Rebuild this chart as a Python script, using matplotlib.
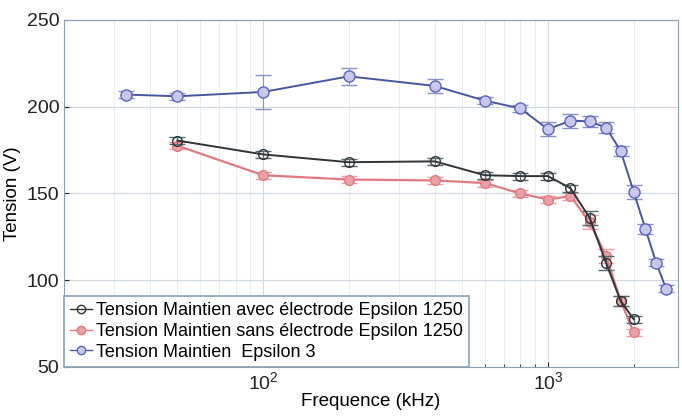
import math
import matplotlib
matplotlib.use("Agg")
import matplotlib.pyplot as plt
from matplotlib.lines import Line2D
from matplotlib.ticker import FuncFormatter, LogLocator, NullFormatter

plt.rcParams["font.family"] = ["Liberation Sans", "DejaVu Sans"]
plt.rcParams["mathtext.default"] = "regular"

# Tension Maintien avec électrode Epsilon 1250
freq_avec = [50, 100, 200, 400, 600, 800, 1000, 1200, 1400, 1600, 1800, 2000]
v_avec = [180.5, 172.5, 168, 168.5, 160.5, 160, 160, 153, 136, 110, 88, 77.5]
err_avec = [2, 2, 2, 2, 2, 2, 2, 2, 4, 4, 3, 2]

# Tension Maintien sans électrode Epsilon 1250
freq_sans = [50, 100, 200, 400, 600, 800, 1000, 1200, 1400, 1600, 1800, 2000]
v_sans = [177.5, 160.5, 158, 157.5, 156, 150, 146.5, 148.5, 133.5, 114, 88, 70]
err_sans = [2, 2, 2, 2, 2, 2, 2, 2, 4, 4, 3, 2]

# Tension Maintien Epsilon 3
freq_eps3 = [33, 50, 100, 200, 400, 600, 800, 1000, 1200, 1400, 1600, 1800, 2000, 2200, 2400, 2600]
v_eps3 = [207, 206, 208.5, 217.5, 212, 203.5, 199, 187, 192, 191.5, 188, 174.5, 151, 129.5, 110, 95]
err_eps3 = [2, 2, 10, 5, 4, 2, 2, 4, 4, 3, 3, 3, 4, 3, 2, 2]

labels = [
    "Tension Maintien avec électrode Epsilon 1250",
    "Tension Maintien sans électrode Epsilon 1250",
    "Tension Maintien  Epsilon 3",
]

styles = [
    dict(color="#2e3438", mfc="none", mec="#2e3438", ecolor="#5a6a70", lw=1.4, ms=7),
    dict(color="#e07a80", mfc="#eba0a4", mec="#e07a80", ecolor="#e8a0a4", lw=1.6, ms=7),
    dict(color="#4856a0", mfc="#c8c8ec", mec="#5a64c0", ecolor="#8890c8", lw=1.4, ms=8),
]
series = [(freq_avec, v_avec, err_avec), (freq_sans, v_sans, err_sans), (freq_eps3, v_eps3, err_eps3)]

fig = plt.figure(figsize=(6.82, 4.16), dpi=100)
ax = fig.add_axes([0.094, 0.118, 0.900, 0.834])

for (x, y, e), st, z in zip(series, styles, [3, 2, 3]):
    ax.errorbar(x, y, yerr=e, color=st["color"], lw=st["lw"], marker="o", ms=st["ms"],
                mfc=st["mfc"], mec=st["mec"], mew=1.0, ecolor=st["ecolor"],
                elinewidth=0.8, capsize=6, zorder=z)

ax.set_xscale("log")
ax.set_xlim(20, 2860)
ax.set_ylim(50, 250)
ax.set_yticks([50, 100, 150, 200, 250])
ax.xaxis.set_major_locator(LogLocator(base=10, numticks=10))
ax.xaxis.set_major_formatter(FuncFormatter(lambda v, p: "$10^{%d}$" % round(math.log10(v))))
ax.xaxis.set_minor_formatter(NullFormatter())

ax.grid(True, which="major", color="#ccd8e2", lw=0.8)
ax.grid(True, which="minor", axis="x", color="#e4ebf1", lw=0.6)
ax.tick_params(axis="both", which="both", direction="in", labelsize=14, colors="#222222")
ax.tick_params(axis="x", which="major", pad=3)
for s in ax.spines.values():
    s.set_color("#8aa0b0")

ax.set_xlabel("Frequence (kHz)", fontsize=13.5, labelpad=0)
ax.set_ylabel("Tension (V)", fontsize=13.5, labelpad=4)

handles = [Line2D([], [], color=st["color"], lw=1.0, marker="o", ms=6, mfc=st["mfc"],
                  mec=st["mec"], mew=1.0) for st in styles]
leg = ax.legend(handles, labels, loc="lower left", fontsize=13, handlelength=1.2,
                handletextpad=0.2, borderaxespad=0.0, borderpad=0.35, labelspacing=0.2,
                fancybox=False, framealpha=1.0, edgecolor="#8aa0b0")
leg.get_frame().set_linewidth(1.2)

fig.savefig("out.png", dpi=100)
